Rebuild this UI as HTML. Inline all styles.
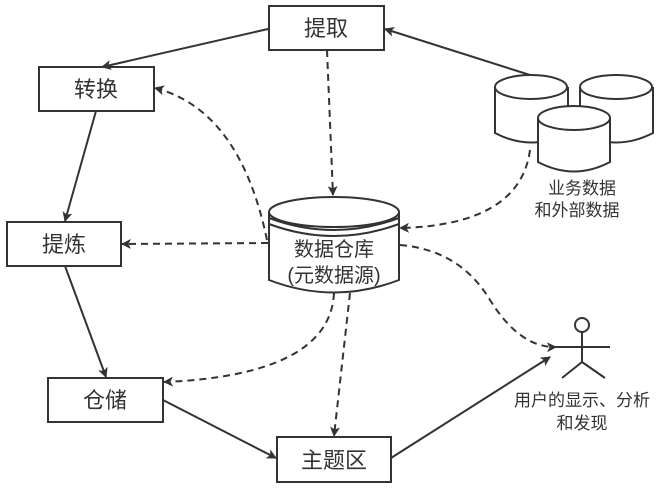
<!DOCTYPE html>
<html><head><meta charset="utf-8"><style>
html,body{margin:0;padding:0;background:#fff;}
svg{display:block;}
text{font-family:"Liberation Sans","Noto Sans CJK SC",sans-serif;fill:#333;}
</style></head><body>
<svg width="665" height="490" viewBox="0 0 665 490" xmlns="http://www.w3.org/2000/svg">
<defs>
<marker id="a" markerWidth="10" markerHeight="10" refX="9" refY="5" orient="auto" markerUnits="userSpaceOnUse">
<path d="M0,0 L10,5 L0,10 L2.5,5 Z" fill="#333"/></marker>
</defs>
<g stroke="#333" stroke-width="2" fill="#fff">
<rect x="269" y="6" width="115" height="44"/>
<rect x="39" y="67" width="115" height="44"/>
<rect x="7" y="222" width="114" height="44"/>
<rect x="48" y="378" width="115" height="44"/>
<rect x="277" y="437" width="114" height="45"/>
<path d="M269,212 L269,280 Q334,305 399,280 L399,212"/>
<ellipse cx="334" cy="212" rx="65" ry="15"/>
<path d="M269,218 Q334,242 399,218" fill="none"/>
<path d="M269,224 Q334,248 399,224" fill="none"/>
<path d="M495,87 L495,133 Q531,152 568,133 L568,87"/>
<ellipse cx="531" cy="87" rx="36" ry="12"/>
<path d="M580,87 L580,133 Q616,152 653,133 L653,87"/>
<ellipse cx="616" cy="87" rx="36" ry="12"/>
<path d="M538,118 L538,162 Q574,181 610,162 L610,118"/>
<ellipse cx="574" cy="118" rx="36" ry="12"/>
<circle cx="582" cy="325" r="7" fill="#fff"/>
<path d="M582,332 L582,362 M555,347 L610,347 M582,362 L562,378 M582,362 L605,378" fill="none"/>
</g>
<g stroke="#333" stroke-width="2" fill="none">
<path d="M268,29 L102,67" marker-end="url(#a)"/>
<path d="M530,75 L385,29" marker-end="url(#a)"/>
<path d="M96,111 L65,221" marker-end="url(#a)"/>
<path d="M65,266 L106,377" marker-end="url(#a)"/>
<path d="M163,400 L276,458" marker-end="url(#a)"/>
<path d="M391,458 L550,357" marker-end="url(#a)"/>
</g>
<g stroke="#333" stroke-width="2" fill="none" stroke-dasharray="7,5">
<path d="M327,50 L333,195" marker-end="url(#a)"/>
<path d="M267,240 Q240,110 155,88" marker-end="url(#a)"/>
<path d="M268,243 L122,244" marker-end="url(#a)"/>
<path d="M334,293 Q330,375 164,382" marker-end="url(#a)"/>
<path d="M350,293 L334,436" marker-end="url(#a)"/>
<path d="M530,150 Q520,225 400,228" marker-end="url(#a)"/>
<path d="M400,245 Q460,250 490,300 Q520,348 556,347" marker-end="url(#a)"/>
</g>
<g font-size="22" text-anchor="middle">
<text x="326" y="36">提取</text>
<text x="96" y="97">转换</text>
<text x="64" y="252">提炼</text>
<text x="105" y="408">仓储</text>
<text x="334" y="468">主题区</text>
</g>
<g font-size="20" text-anchor="middle">
<text x="334" y="256">数据仓库</text>
<text x="334" y="282">(元数据源)</text>
</g>
<g font-size="17" text-anchor="middle">
<text x="582" y="194">业务数据</text>
<text x="577" y="216">和外部数据</text>
<text x="582" y="406">用户的显示、分析</text>
<text x="582" y="429">和发现</text>
</g>
</svg>
</body></html>
